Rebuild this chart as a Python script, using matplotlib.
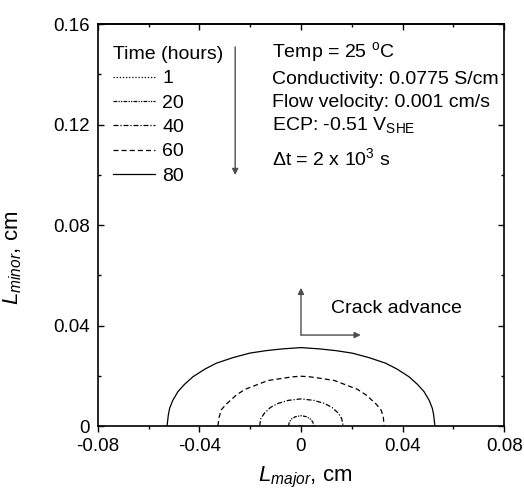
import matplotlib
matplotlib.use("Agg")
import matplotlib.pyplot as plt
from matplotlib.ticker import MultipleLocator, FixedLocator, FixedFormatter

plt.rcParams['font.family'] = ['Liberation Sans', 'DejaVu Sans']
plt.rcParams['mathtext.fontset'] = 'custom'
plt.rcParams['mathtext.rm'] = 'Liberation Sans'
plt.rcParams['mathtext.it'] = 'Liberation Sans:italic'
plt.rcParams['mathtext.default'] = 'regular'

# ---- data ----
times = ["1", "20", "40", "60", "80"]

x_1h = [-0.0006, 0.0, 0.0006]
y_1h = [0.0, 0.0005, 0.0]

x_20h = [-0.0049, -0.0046, -0.0037, -0.0022, 0.0, 0.0022, 0.0038, 0.0047, 0.0050]
y_20h = [0.0, 0.0016, 0.0028, 0.0037, 0.0041, 0.0037, 0.0027, 0.0015, 0.0]

x_40h = [-0.0163, -0.0158, -0.0143, -0.0120, -0.0090, -0.0050, 0.0, 0.0050, 0.0092,
         0.0122, 0.0146, 0.0160, 0.0166]
y_40h = [0.0, 0.0030, 0.0052, 0.0074, 0.0090, 0.0102, 0.0108, 0.0102, 0.0090,
         0.0074, 0.0052, 0.0030, 0.0]

x_60h = [-0.0327, -0.0322, -0.0314, -0.0295, -0.0255, -0.0220, -0.0176, -0.0130, -0.0072,
         -0.0030, 0.0, 0.0033, 0.0075, 0.0132, 0.0178, 0.0222, 0.0257, 0.0297, 0.0316,
         0.0324, 0.0327]
y_60h = [0.0, 0.0035, 0.0064, 0.0086, 0.0123, 0.0146, 0.0163, 0.0181, 0.0190,
         0.0196, 0.0198, 0.0196, 0.0190, 0.0181, 0.0163, 0.0146, 0.0123, 0.0086, 0.0062,
         0.0035, 0.0]

x_80h = [-0.0527, -0.0522, -0.0517, -0.0504, -0.0484, -0.0458, -0.0425, -0.0379, -0.0333,
         -0.0268, -0.0202, -0.0137, -0.0072, 0.0, 0.0072, 0.0137, 0.0202, 0.0268,
         0.0333, 0.0379, 0.0425, 0.0458, 0.0484, 0.0504, 0.0517, 0.0522, 0.0527]
y_80h = [0.0, 0.0044, 0.0070, 0.0103, 0.0137, 0.0166, 0.0196, 0.0226, 0.0250,
         0.0272, 0.0290, 0.0300, 0.0307, 0.0312, 0.0307, 0.0300, 0.0290, 0.0272,
         0.0250, 0.0226, 0.0196, 0.0166, 0.0137, 0.0103, 0.0070, 0.0044, 0.0]

xticks = [-0.08, -0.04, 0.0, 0.04, 0.08]
xticklabels = ["-0.08", "-0.04", "0", "0.04", "0.08"]
yticks = [0.0, 0.04, 0.08, 0.12, 0.16]
yticklabels = ["0", "0.04", "0.08", "0.12", "0.16"]

fig = plt.figure(figsize=(5.24, 4.93), dpi=100)
ax = fig.add_axes([0.1864, 0.1359, 0.776, 0.8154])

styles = [(0, (1, 1.5)), (0, (3, 1, 1, 1, 1, 1)), (0, (4, 1.5, 1, 1.5)), (0, (4, 2.5)), '-']
xs = [x_1h, x_20h, x_40h, x_60h, x_80h]
ys = [y_1h, y_20h, y_40h, y_60h, y_80h]
for t, x, y, ls in zip(times, xs, ys, styles):
    ax.plot(x, y, color='black', lw=0.9, linestyle=ls, label=t)

ax.set_xlim(-0.08, 0.08)
ax.set_ylim(0, 0.16)
ax.xaxis.set_major_locator(FixedLocator(xticks))
ax.xaxis.set_major_formatter(FixedFormatter(xticklabels))
ax.yaxis.set_major_locator(FixedLocator(yticks))
ax.yaxis.set_major_formatter(FixedFormatter(yticklabels))
ax.xaxis.set_minor_locator(MultipleLocator(0.02))
ax.yaxis.set_minor_locator(MultipleLocator(0.02))

ax.tick_params(axis='x', which='both', direction='out', top=False)
ax.tick_params(axis='y', which='both', direction='in', right=True)
ax.tick_params(which='major', length=4.5, width=1, labelsize=13.5)
ax.tick_params(which='minor', length=2.5, width=1)
ax.tick_params(axis='x', which='major', pad=4)
ax.tick_params(axis='y', which='major', pad=5.5)
# top ticks inward
axt = ax.secondary_xaxis('top')
axt.xaxis.set_major_locator(FixedLocator(xticks))
axt.xaxis.set_minor_locator(MultipleLocator(0.02))
axt.tick_params(which='both', direction='in', labeltop=False)
axt.tick_params(which='major', length=4.5, width=1)
axt.tick_params(which='minor', length=2.5, width=1)
for s in axt.spines.values():
    s.set_linewidth(1.2)
for s in ax.spines.values():
    s.set_linewidth(1.2)

ax.set_xlabel(r"$\it{L}_{\it{major}}$, cm", fontsize=16)
ax.set_ylabel(r"$\it{L}_{\it{minor}}$, cm", fontsize=16)
ax.xaxis.set_label_coords(0.511, -0.097)
ax.yaxis.set_label_coords(-0.18, 0.418)

fs = 14
leg = ax.legend(title="Time (hours)", loc='upper left', bbox_to_anchor=(0.037, 0.945),
                frameon=False, fontsize=fs, title_fontsize=fs,
                handlelength=2.2, handletextpad=0.35, labelspacing=0.345,
                alignment='left', borderaxespad=0, borderpad=0)

# down arrow beside legend
ax.annotate("", xy=(-0.0259, 0.0999), xytext=(-0.0259, 0.1509),
            arrowprops=dict(arrowstyle='-|>', color='0.3', lw=1.0,
                            mutation_scale=9, shrinkA=0, shrinkB=0))

tx = -0.0113
ax.text(tx, 0.1467, r"Temp = 25 $^{\mathrm{o}}$C", fontsize=fs, va='baseline')
ax.text(tx, 0.1361, "Conductivity: 0.0775 S/cm", fontsize=fs, va='baseline')
ax.text(tx, 0.1269, "Flow velocity: 0.001 cm/s", fontsize=fs, va='baseline')
ax.text(tx, 0.1178, r"ECP: -0.51 V$_{\mathrm{SHE}}$", fontsize=fs, va='baseline')
ax.text(tx, 0.1039, r"$\Delta$t = 2 x 10$^{3}$ s", fontsize=fs, va='baseline')

# crack advance arrows
ax.annotate("", xy=(0.0, 0.0550), xytext=(0.0, 0.0362),
            arrowprops=dict(arrowstyle='-|>', color='0.3', lw=1.0,
                            mutation_scale=9, shrinkA=0, shrinkB=0))
ax.annotate("", xy=(0.0235, 0.0362), xytext=(0.0, 0.0362),
            arrowprops=dict(arrowstyle='-|>', color='0.3', lw=1.0,
                            mutation_scale=9, shrinkA=0, shrinkB=0))
ax.text(0.0119, 0.0449, "Crack advance", fontsize=fs, va='baseline')

fig.savefig("out.png", dpi=100)
